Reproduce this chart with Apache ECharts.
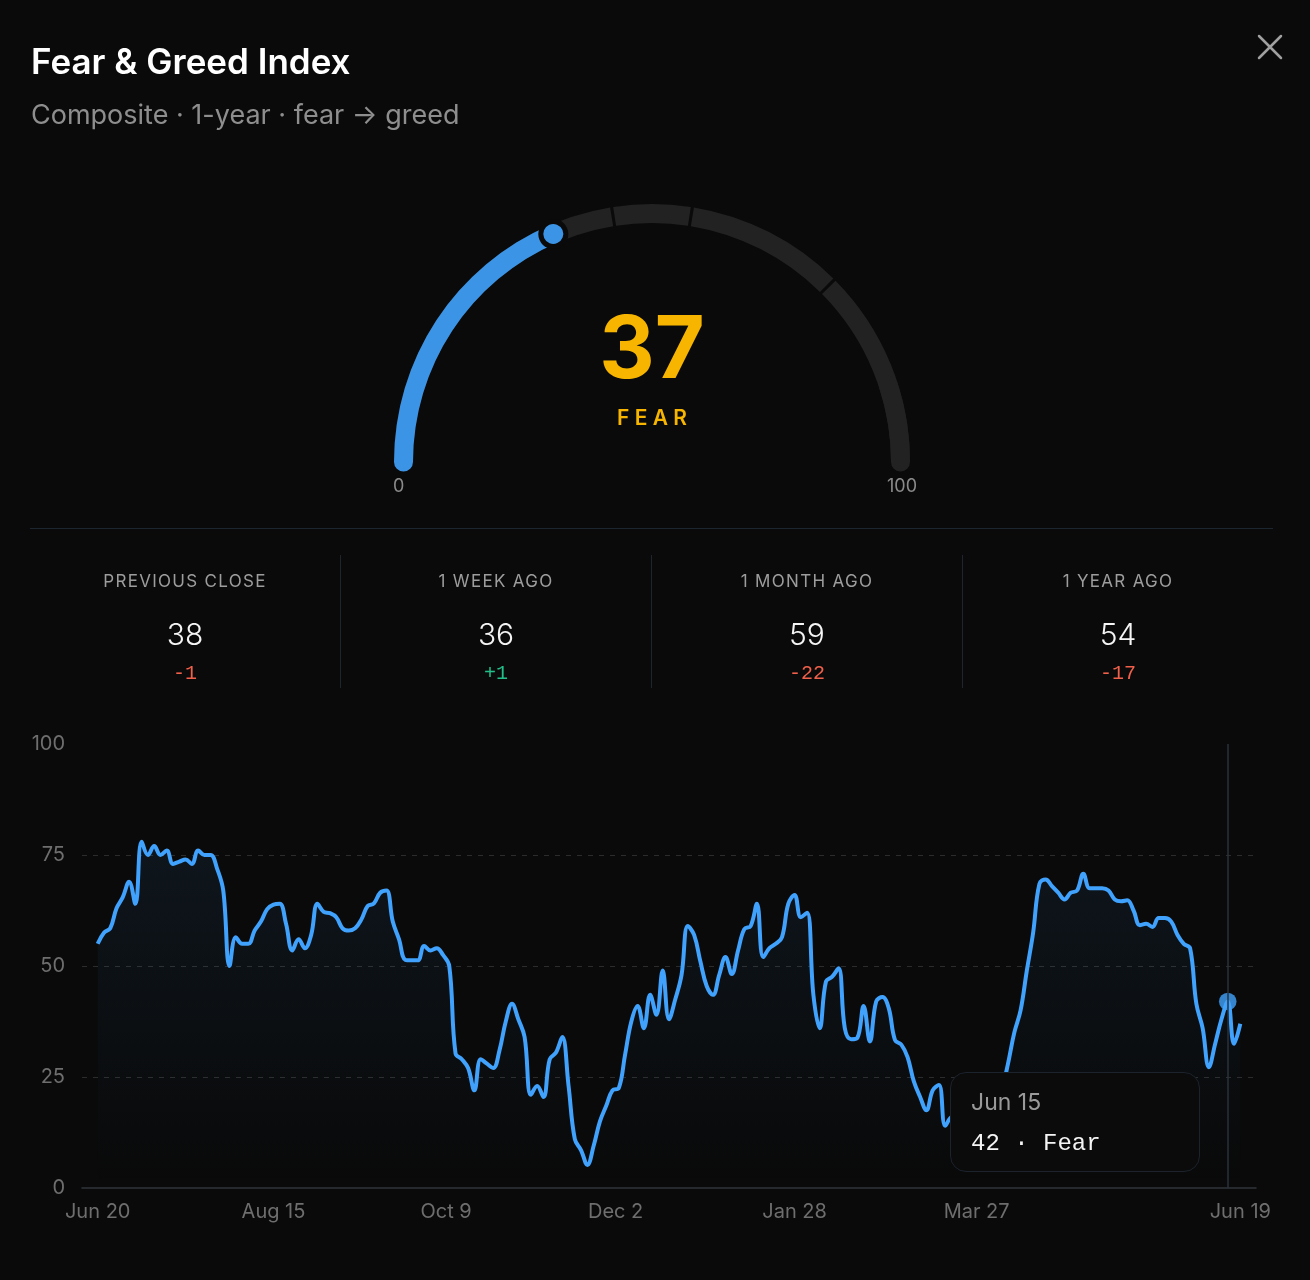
<!DOCTYPE html>
<html>
<head>
<meta charset="utf-8">
<title>Fear &amp; Greed Index</title>
<script src="https://cdn.jsdelivr.net/npm/echarts@6/dist/echarts.min.js"></script>
<style>
  html, body { margin: 0; padding: 0; background: #0a0a0a; }
  #page { position: relative; width: 1310px; height: 1280px; overflow: hidden; font-family: Inter, "Noto Sans", sans-serif; }
  #chart { position: absolute; left: 0; top: 0; width: 1310px; height: 1280px; }
  .title { position: absolute; left: 31px; top: 41px; font-size: 35px; font-weight: 600; color: #fff; line-height: 40px; white-space: nowrap; }
  .sub { position: absolute; left: 31px; top: 99px; font-size: 27px; color: #8e8e8e; line-height: 32px; white-space: nowrap; }
  .close { position: absolute; left: 1257px; top: 34px; }
  .rule { position: absolute; left: 30px; top: 528px; width: 1243px; height: 1px; background: #1c2631; }
  .stats { position: absolute; left: 30px; top: 555px; width: 1243px; height: 133px; display: flex; }
  .stat { flex: 1; text-align: center; border-left: 1px solid #1f252d; }
  .stat:first-child { border-left: none; }
  .stat .lab { margin-top: 16px; font-size: 17px; letter-spacing: 1.3px; color: #9d9d9d; line-height: 20px; }
  .stat .val { margin-top: 24px; font-size: 30px; font-weight: 300; color: #f5f5f5; line-height: 38px; }
  .stat .chg { margin-top: 9px; font-family: "Liberation Mono", monospace; font-size: 20px; line-height: 24px; }
</style>
</head>
<body>
<div id="page">
  <div id="chart"></div>
  <div class="title">Fear &amp; Greed Index</div>
  <div class="sub">Composite · 1-year · fear → greed</div>
  <svg class="close" width="26" height="26"><path d="M2 2L24 24M24 2L2 24" stroke="#a0a0a0" stroke-width="2.5" stroke-linecap="round"/></svg>
  <div class="rule"></div>
  <div class="stats" id="stats"></div>
</div>
<script>
// current reading
const currentValue = 37;

// comparison cards
const statLabels = ['PREVIOUS CLOSE', '1 WEEK AGO', '1 MONTH AGO', '1 YEAR AGO'];
const statValues = [38, 36, 59, 54];

// gauge zones (fear -> greed)
const zoneBounds = [0, 25, 45, 55, 75, 100];
const zoneNames = ['Extreme Fear', 'Fear', 'Neutral', 'Greed', 'Extreme Greed'];

// 1-year history, one reading every 2 days starting Jun 20
const stepDays = 2;
const fgValues = [
  55, 57.5, 58.5, 63, 65.5, 69, 64, 78, 75, 77,
  75, 76, 73, 73.5, 74, 73, 76, 75, 75, 72,
  67, 50, 56.5, 55, 55, 58, 60, 62.8, 63.8, 64,
  59.5, 53.5, 56, 54, 57, 64, 62.2, 61.9, 61, 58.5,
  58, 58.5, 60.5, 63.5, 64.1, 66.5, 67, 60, 56, 51.4,
  51.3, 51.3, 54.5, 53.5, 54, 52.5, 50, 30.3, 29, 27,
  22, 29, 28, 27, 31, 37.5, 41.5, 38, 34, 21,
  23, 20.5, 29, 30.5, 34, 23, 11, 8.5, 5.2, 9.5,
  15, 18.5, 22, 22.5, 30, 37.5, 41, 36, 43.5, 39,
  49, 38, 42.5, 48, 59, 57, 51, 45.5, 43.5, 48,
  52, 48.2, 53.5, 58.3, 59, 64, 52, 54, 55, 56.5,
  64, 66, 61, 62, 43.5, 36, 46.5, 47.6, 49.5, 36,
  33.5, 33.8, 41, 33, 42, 43, 40.5, 33.3, 32.3, 29.5,
  24, 20.5, 17.5, 22, 23.2, 14, 16, 13, 11, 10,
  11, 12.5, 15, 18, 22, 28, 35, 40, 49, 57.5,
  68.5, 69.5, 68, 66.5, 65, 66.5, 67, 70.8, 67.5, 67.5,
  67.5, 67, 65, 64.6, 64.8, 62.5, 59.2, 59.5, 58.8, 60.8,
  60.8, 60, 57, 55, 54, 41.5, 36, 27.2, 32.5, 38,
  42, 32.5, 37
];

// x axis ticks (days since Jun 20)
const tickDays = [0, 56, 111, 165, 222, 280, 364];
const tickLabels = ['Jun 20', 'Aug 15', 'Oct 9', 'Dec 2', 'Jan 28', 'Mar 27', 'Jun 19'];

// hovered reading shown in the tooltip
const hoverIndex = 180;

const monthNames = ['Jan', 'Feb', 'Mar', 'Apr', 'May', 'Jun', 'Jul', 'Aug', 'Sep', 'Oct', 'Nov', 'Dec'];
const blue = '#3b94e6';
const amber = '#f7b500';

function zoneOf(v) {
  for (let i = 1; i < zoneBounds.length; i++) {
    if (v < zoneBounds[i] || i === zoneBounds.length - 1) return zoneNames[i - 1];
  }
}
function dayLabel(day) {
  const d = new Date(2024, 5, 20);
  d.setDate(d.getDate() + day);
  return monthNames[d.getMonth()] + ' ' + d.getDate();
}

// stat cards
const statsEl = document.getElementById('stats');
statLabels.forEach(function (lab, i) {
  const diff = currentValue - statValues[i];
  const col = diff < 0 ? '#f0604a' : '#21c08b';
  const div = document.createElement('div');
  div.className = 'stat';
  div.innerHTML = '<div class="lab">' + lab + '</div>' +
    '<div class="val">' + statValues[i] + '</div>' +
    '<div class="chg" style="color:' + col + '">' + (diff > 0 ? '+' : '') + diff + '</div>';
  statsEl.appendChild(div);
});

// gauge geometry
const gCenter = [652, 462];
const gRadius = 258;
const ringWidth = 19;
const gapDeg = 0.7;
function angleOf(v) { return 180 - v * 1.8; }

const hidden = {
  splitLine: { show: false }, axisTick: { show: false }, axisLabel: { show: false },
  pointer: { show: false }, detail: { show: false }, title: { show: false }, anchor: { show: false }
};

const trackSeries = zoneBounds.slice(0, -1).map(function (a, i) {
  const b = zoneBounds[i + 1];
  return Object.assign({
    type: 'gauge', center: gCenter, radius: gRadius, min: a, max: b,
    startAngle: angleOf(a) - (a > 0 ? gapDeg / 2 : 0),
    endAngle: angleOf(b) + (b < 100 ? gapDeg / 2 : 0),
    axisLine: { lineStyle: { width: ringWidth, color: [[1, '#222222']] } },
    data: []
  }, hidden);
});
// rounded cap at the 100 end
trackSeries.push(Object.assign({
  type: 'gauge', center: gCenter, radius: gRadius,
  startAngle: angleOf(90), endAngle: 0,
  axisLine: { roundCap: true, lineStyle: { width: ringWidth, color: [[1, '#222222']] } },
  data: []
}, hidden));

const zoneLabel = zoneOf(currentValue).toUpperCase().split('').join(' ');

const valueGauge = {
  type: 'gauge', center: gCenter, radius: gRadius, min: 0, max: 100,
  startAngle: 180, endAngle: 0,
  axisLine: { show: false },
  splitLine: { show: false }, axisTick: { show: false }, axisLabel: { show: false }, anchor: { show: false },
  progress: { show: true, width: ringWidth, roundCap: true, itemStyle: { color: blue } },
  pointer: { show: false },
  detail: {
    show: true, valueAnimation: false, formatter: '{value}', offsetCenter: [0, -110],
    fontSize: 86, fontWeight: 700, fontFamily: 'Inter', color: amber
  },
  title: {
    show: true, offsetCenter: [0, -43], fontSize: 21, fontWeight: 600, fontFamily: 'Inter', color: amber
  },
  data: [{ value: currentValue, name: zoneLabel }]
};

// knob at the current value, drawn on top of the progress arc
const dotSize = 25;
const knobGauge = Object.assign({}, hidden, {
  type: 'gauge', center: gCenter, radius: gRadius, min: 0, max: 100,
  startAngle: 180, endAngle: 0, z: 6,
  axisLine: { show: false },
  pointer: {
    show: true, icon: 'circle', length: dotSize, width: dotSize, keepAspect: true,
    offsetCenter: [0, dotSize / 2 - (gRadius - ringWidth / 2)],
    itemStyle: { color: blue, borderColor: '#0a0a0a', borderWidth: 5, opacity: 1 }
  },
  data: [{ value: currentValue }]
});

const lineData = fgValues.map(function (v, i) { return [i * stepDays, v]; });

const option = {
  animation: false,
  backgroundColor: 'transparent',
  textStyle: { fontFamily: 'Inter' },
  graphic: [
    { type: 'text', left: 393, top: 478, style: { text: '0', fill: '#8a8a8a', font: '18px Inter' } },
    { type: 'text', left: 887, top: 478, style: { text: '100', fill: '#8a8a8a', font: '18px Inter' } }
  ],
  grid: { left: 82, right: 54, top: 744, bottom: 92 },
  xAxis: {
    type: 'value', min: -5, max: 369,
    axisLine: { show: true, lineStyle: { color: '#30343a', width: 1.5 } },
    axisTick: { show: false },
    splitLine: { show: false },
    axisLabel: {
      customValues: tickDays,
      color: '#6e6e6e', fontSize: 20, margin: 14,
      formatter: function (v) { return tickLabels[tickDays.indexOf(v)] || ''; }
    }
  },
  yAxis: {
    type: 'value', min: 0, max: 100, interval: 25,
    axisLine: { show: false }, axisTick: { show: false },
    axisLabel: { color: '#6e6e6e', fontSize: 20, margin: 17 },
    splitLine: { show: true, showMinLine: false, showMaxLine: false, lineStyle: { color: '#2c2c2c', type: [5, 6] } }
  },
  tooltip: {
    trigger: 'axis',
    alwaysShowContent: true,
    transitionDuration: 0,
    position: [950, 1072],
    padding: [15, 20],
    backgroundColor: '#0b0b0b',
    borderColor: '#1c232d',
    borderWidth: 1,
    extraCssText: 'border-radius:16px;box-shadow:none;width:250px;height:100px;box-sizing:border-box;',
    axisPointer: { type: 'line', lineStyle: { color: '#2a323c', width: 1.5, type: 'solid' }, label: { show: false } },
    formatter: function (params) {
      const p = params[0];
      const v = p.value[1];
      return '<div style="font-family:Inter;font-size:23px;color:#9a9a9a;line-height:28px">' + dayLabel(p.value[0]) + '</div>' +
        '<div style="font-family:\'Liberation Mono\',monospace;font-size:24px;color:#f4f4f4;line-height:28px;margin-top:14px">' +
        Math.round(v) + ' · ' + zoneOf(v) + '</div>';
    }
  },
  series: trackSeries.concat([valueGauge, knobGauge, {
    type: 'line',
    data: lineData,
    smooth: 0.4,
    symbol: 'none',
    lineStyle: { color: blue, width: 4 },
    areaStyle: {
      color: new echarts.graphic.LinearGradient(0, 0, 0, 1, [
        { offset: 0, color: 'rgba(59,148,230,0.11)' },
        { offset: 1, color: 'rgba(59,148,230,0)' }
      ])
    },
    z: 3
  }, {
    type: 'scatter',
    data: [lineData[hoverIndex]],
    symbolSize: 16,
    itemStyle: { color: blue },
    silent: true,
    z: 4
  }])
};

const myChart = echarts.init(document.getElementById('chart'));
myChart.setOption(option);
myChart.dispatchAction({ type: 'showTip', seriesIndex: trackSeries.length + 2, dataIndex: hoverIndex });
</script>
</body>
</html>
